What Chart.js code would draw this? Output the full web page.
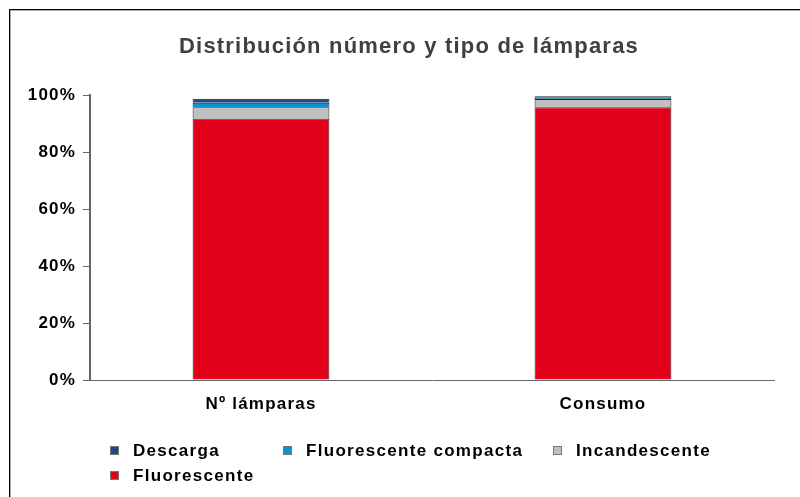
<!DOCTYPE html>
<html>
<head>
<meta charset="utf-8">
<script src="https://cdn.jsdelivr.net/npm/chart.js@4.4.0/dist/chart.umd.min.js"></script>
<style>
  html, body { margin: 0; padding: 0; background: #fff; overflow: hidden; }
  #marco {
    position: absolute; left: 9px; top: 9px; width: 900px; height: 600px;
    border-left: 1px solid #000; border-top: 1px solid #000;
    box-shadow: inset 1px 1px 0 #aaa;
  }
  #lienzo { position: absolute; left: 0; top: 0; width: 800px; height: 497px; }
  .leyenda {
    position: absolute; font: bold 17px "Liberation Sans", Arial, sans-serif;
    letter-spacing: 1.3px; color: #000; white-space: nowrap; line-height: 20px;
  }
  .leyenda i {
    display: inline-block; width: 7px; height: 7px; border: 1px solid #777;
    margin-right: 14px; vertical-align: 1px;
  }
</style>
</head>
<body>
<div id="marco"></div>
<div id="lienzo"><canvas id="grafico" width="800" height="497"></canvas></div>
<div id="leyenda"></div>
<script>
// Datos (porcentajes)
const categorias = ['Nº lámparas', 'Consumo'];
const fluorescente = [91.9, 95.8];
const incandescente = [3.9, 2.9];
const fluorescenteCompacta = [1.6, 0.5];
const descarga = [1.4, 0.5];
const ticksY = [0, 20, 40, 60, 80, 100];

const series = [
    { label: 'Fluorescente', data: fluorescente, color: '#E2001A' },
    { label: 'Incandescente', data: incandescente, color: '#C0C0C0' },
    { label: 'Fluorescente compacta', data: fluorescenteCompacta, color: '#0A93D6' },
    { label: 'Descarga', data: descarga, color: '#1F4A80' }
];

const fuente = '"Liberation Sans", Arial, sans-serif';

// El original tiene las letras algo separadas
const espaciado = {
    id: 'espaciado',
    beforeUpdate: c => { c.ctx.letterSpacing = '1.2px'; },
    beforeDraw: c => { c.ctx.letterSpacing = '1.2px'; }
};

new Chart(document.getElementById('grafico').getContext('2d'), {
    type: 'bar',
    data: {
        labels: categorias,
        datasets: series.map(s => ({
            label: s.label,
            data: s.data,
            backgroundColor: s.color,
            borderColor: '#222',
            borderWidth: 1,
            barPercentage: 0.4,
            categoryPercentage: 1
        }))
    },
    options: {
        responsive: false,
        animation: false,
        layout: { padding: { left: 18, right: 0, bottom: 77 } },
        plugins: {
            legend: { display: false },
            tooltip: { enabled: false },
            title: {
                display: true,
                text: 'Distribución número y tipo de lámparas',
                color: '#404040',
                font: { family: fuente, size: 22, weight: 'bold', lineHeight: 1.2 },
                padding: { top: 34, bottom: 35 }
            }
        },
        scales: {
            x: {
                stacked: true,
                grid: { display: false },
                border: { color: '#666', width: 1 },
                ticks: { color: '#000', font: { family: fuente, size: 17, weight: 'bold' }, padding: 6 },
                afterFit: s => { s.height = 40; }
            },
            y: {
                stacked: true,
                min: 0,
                max: 100,
                afterBuildTicks: s => { s.ticks = ticksY.map(v => ({ value: v })); },
                grid: { drawOnChartArea: false, tickLength: 7, color: '#666', tickWidth: 1 },
                border: { color: '#666', width: 2 },
                ticks: {
                    color: '#000',
                    font: { family: fuente, size: 17, weight: 'bold' },
                    padding: 7,
                    callback: v => v + '%'
                },
                afterFit: s => { s.width = 72; }
            },
            // eje vacío a la derecha, solo reserva el margen
            margen: {
                position: 'right',
                grid: { display: false },
                border: { display: false },
                ticks: { display: false },
                afterFit: s => { s.width = 26; }
            }
        }
    },
    plugins: [espaciado]
});

// Leyenda en HTML, en columnas como el original
const posiciones = [
    { x: 110, y: 441 },
    { x: 283, y: 441 },
    { x: 553, y: 441 },
    { x: 110, y: 466 }
];
const leyenda = document.getElementById('leyenda');
series.slice().reverse().forEach((s, i) => {
    const d = document.createElement('div');
    d.className = 'leyenda';
    d.style.left = posiciones[i].x + 'px';
    d.style.top = posiciones[i].y + 'px';
    d.innerHTML = '<i style="background:' + s.color + '"></i>' + s.label;
    leyenda.appendChild(d);
});
</script>
</body>
</html>
